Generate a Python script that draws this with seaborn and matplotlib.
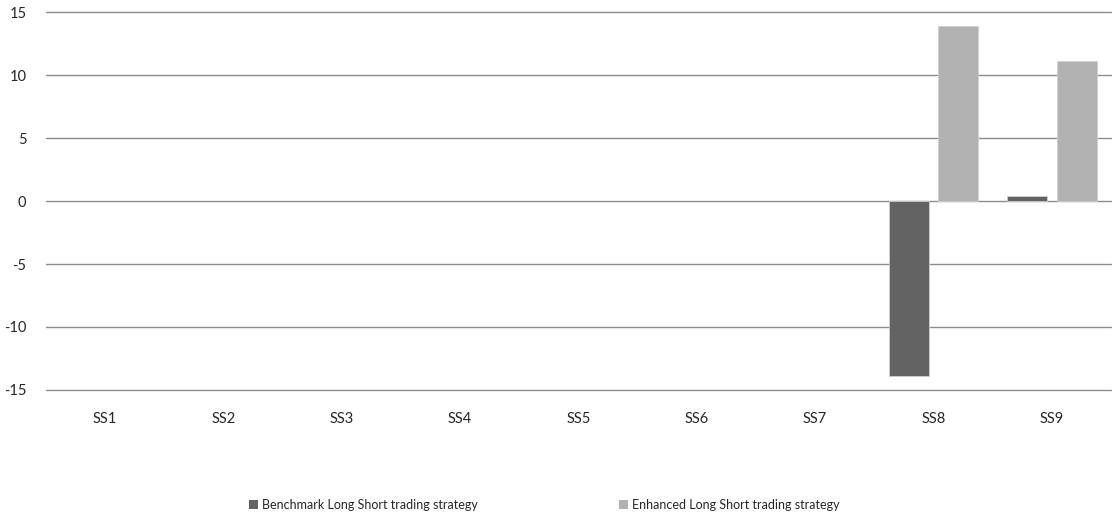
import numpy as np
import pandas as pd
import matplotlib
matplotlib.use("Agg")
import matplotlib.pyplot as plt
import seaborn as sns
from matplotlib.patches import Patch

categories = ["SS1", "SS2", "SS3", "SS4", "SS5", "SS6", "SS7", "SS8", "SS9"]
benchmark = [0, 0, 0, 0, 0, 0, 0, -13.9, 0.4]
enhanced = [0, 0, 0, 0, 0, 0, 0, 13.9, 11.1]
series = ["Benchmark Long Short trading strategy", "Enhanced Long Short trading strategy"]
colors = ["#636363", "#b2b2b2"]
yticks = [-15, -10, -5, 0, 5, 10, 15]

df = pd.DataFrame({
    "cat": categories * 2,
    "value": benchmark + enhanced,
    "series": [series[0]] * len(categories) + [series[1]] * len(categories),
})

sns.set_theme(style="white")
plt.rcParams["font.family"] = ["Lato", "DejaVu Sans"]

fig = plt.figure(figsize=(11.2, 5.17), dpi=100)
ax = fig.add_axes([0.041, 0.246, 0.951, 0.730])

# gridlines under bars
for y in yticks:
    ax.axhline(y, color="#8c8c8c", lw=1.0, zorder=0, clip_on=False)

sns.barplot(data=df, x="cat", y="value", hue="series", hue_order=series,
            palette=colors, width=0.84, gap=0.2, ax=ax, legend=False,
            edgecolor="#d0d0d0", linewidth=0.6, zorder=2)

# empty bars should not leave an outline on the zero line
for p in ax.patches:
    if p.get_height() == 0:
        p.set_linewidth(0)

ax.set_ylim(-15, 15)
ax.set_xlim(-0.5, len(categories) - 0.5)
ax.set_yticks(yticks)
ax.set_yticklabels([str(t) for t in yticks], fontsize=10.5)
ax.set_xlabel("")
ax.set_ylabel("")
ax.tick_params(axis="x", length=0, pad=16, labelsize=10.5)
ax.tick_params(axis="y", length=0, pad=14)
for s in ax.spines.values():
    s.set_visible(False)

handles = [Patch(facecolor=c, edgecolor="none") for c in colors]
fig.legend(handles, series, loc="center", bbox_to_anchor=(0.486, 0.023), ncol=2,
           frameon=False, fontsize=9, handlelength=0.7, handleheight=0.7,
           handletextpad=0.3, columnspacing=11.3)

fig.savefig("out.png", dpi=100)
